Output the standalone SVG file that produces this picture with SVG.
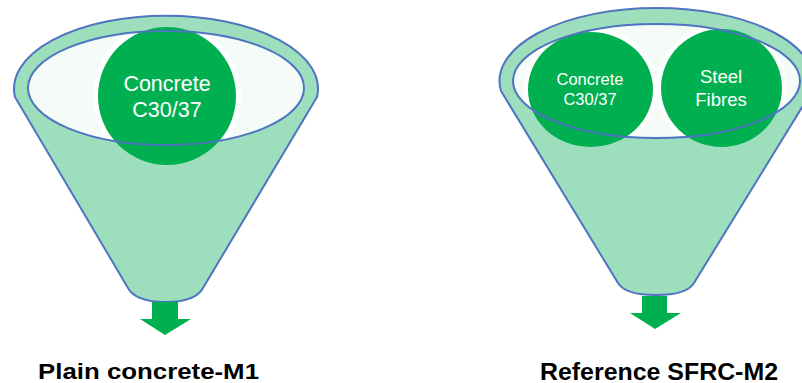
<svg xmlns="http://www.w3.org/2000/svg" width="802" height="383" viewBox="0 0 802 383">
  <style>
    .body { fill: #9DDFBC; stroke: #4F74C1; stroke-width: 2; stroke-linejoin: round; }
    .mouth { fill: #F5FCF7; stroke: none; }
    .rim { fill: none; stroke: #4F74C1; stroke-width: 2; }
    .halo { fill: #FFFFFF; }
    .ball { fill: #00B050; }
    .out { fill: #00B050; }
    .inside { font-family: "Liberation Sans", Arial, sans-serif; fill: #FFFFFF; text-anchor: middle; }
    .caption { font-family: "Liberation Sans", Arial, sans-serif; font-weight: bold; fill: #000000; }
  </style>
  <defs>
    <clipPath id="mouth1"><ellipse cx="166" cy="88" rx="138" ry="57"/></clipPath>
    <clipPath id="mouth2"><ellipse cx="656.5" cy="81" rx="143.5" ry="57"/></clipPath>
  </defs>

  <!-- Funnel for plain concrete -->
  <g id="funnel-m1">
    <path class="body" d="M15,97 A152,73 0 1 1 317,97 L203,288 C197,299 182,302 166,302 C150,302 134,299 128,288 Z"/>
    <ellipse class="mouth" cx="166" cy="88" rx="138" ry="57"/>
  </g>
  <g id="concrete-m1">
    <circle class="halo" cx="167" cy="96" r="74" clip-path="url(#mouth1)"/>
    <circle class="ball" cx="167" cy="96" r="69"/>
    <text class="inside" font-size="21.5" x="167" y="91">Concrete</text>
    <text class="inside" font-size="21.5" x="167" y="117">C30/37</text>
  </g>
  <ellipse class="rim" cx="166" cy="88" rx="138" ry="57"/>

  <!-- Funnel for steel-fibre reinforced concrete -->
  <g id="funnel-m2">
    <path class="body" d="M501,91 A157,73 0 1 1 812,91 L694,283 C688,293 672,295 656,295 C640,295 624,293 618,283 Z"/>
    <ellipse class="mouth" cx="656.5" cy="81" rx="143.5" ry="57"/>
  </g>
  <g id="concrete-m2">
    <ellipse class="halo" cx="590.5" cy="89.5" rx="67" ry="62" clip-path="url(#mouth2)"/>
    <ellipse class="ball" cx="590.5" cy="89.5" rx="62.5" ry="57.5"/>
    <text class="inside" font-size="16.5" x="590" y="85">Concrete</text>
    <text class="inside" font-size="16.5" x="590" y="105">C30/37</text>
  </g>
  <g id="fibres-m2">
    <ellipse class="halo" cx="721.5" cy="88" rx="65" ry="63.5" clip-path="url(#mouth2)"/>
    <ellipse class="ball" cx="721.5" cy="88" rx="60.5" ry="59"/>
    <text class="inside" font-size="18.5" x="721" y="83">Steel</text>
    <text class="inside" font-size="18.5" x="721" y="106">Fibres</text>
  </g>
  <ellipse class="rim" cx="656.5" cy="81" rx="143.5" ry="57"/>

  <!-- Outflow arrows -->
  <g id="connectors">
    <path class="out" d="M152,302 H178 V319 H191 L165,335 L140,319 H152 Z"/>
    <path class="out" d="M642,296 H667 V313 H681 L655,329 L630,313 H642 Z"/>
  </g>

  <!-- Captions -->
  <g id="label-m1">
    <text class="caption" font-size="22.5" x="38" y="379" textLength="221" lengthAdjust="spacingAndGlyphs">Plain concrete-M1</text>
  </g>
  <g id="label-m2">
    <text class="caption" font-size="23" x="540" y="379.5" textLength="238" lengthAdjust="spacingAndGlyphs">Reference SFRC-M2</text>
  </g>
</svg>
